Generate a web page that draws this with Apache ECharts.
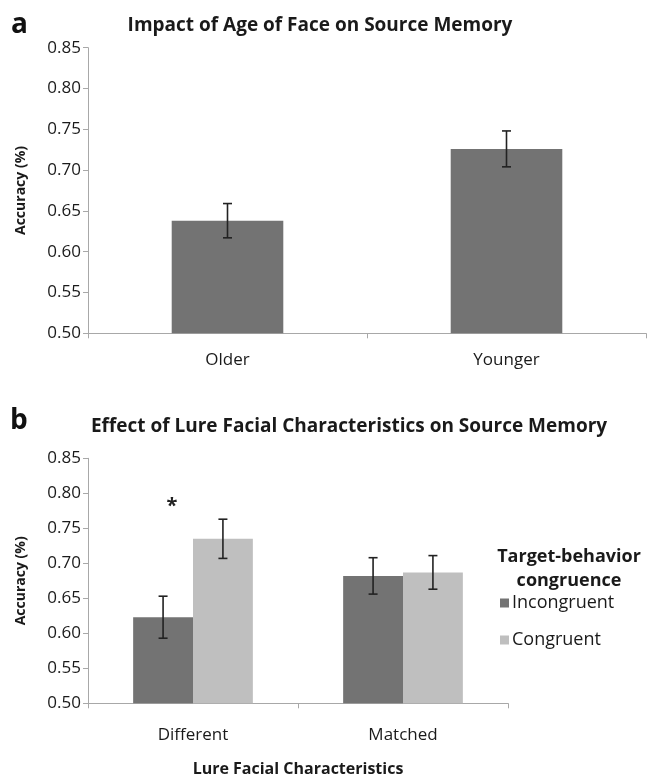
<!DOCTYPE html>
<html>
<head>
<meta charset="utf-8">
<script src="https://cdn.jsdelivr.net/npm/echarts@6/dist/echarts.min.js"></script>
<style>
html,body{margin:0;padding:0;background:#fff;}
#chart{width:647px;height:779px;}
</style>
</head>
<body>
<div id="chart"></div>
<script>
// ---- Data ----
const catsA = ['Older', 'Younger'];
const accA = [0.638, 0.726];
const errA = [0.021, 0.022];

const catsB = ['Different', 'Matched'];
const incongruent = [0.623, 0.682];
const congruent = [0.735, 0.687];
const errIncongruent = [0.030, 0.026];
const errCongruent = [0.028, 0.024];

const seriesNamesB = ['Incongruent', 'Congruent'];
const yMin = 0.50, yMax = 0.85, yStep = 0.05;
const starCategory = 'Different';
const starValue = 0.781;

// ---- Style ----
const FONT = 'Open Sans';
const TXT = '#1a1a1a';
const AXIS = '#a8a8a8';
const DARK = '#737373';
const LIGHT = '#bfbfbf';
const GAP_B = 0.43;

function errRender(offsetFrac) {
  return function (params, api) {
    const xi = api.value(0);
    const v = api.value(1);
    const e = api.value(2);
    const band = api.size([1, 0])[0];
    const off = offsetFrac * band;
    const top = api.coord([xi, v + e]);
    const bot = api.coord([xi, v - e]);
    const x = top[0] + off;
    const hw = 4.5;
    const st = { stroke: '#222', lineWidth: 1.6 };
    return {
      type: 'group',
      children: [
        { type: 'line', shape: { x1: x, y1: top[1], x2: x, y2: bot[1] }, style: st },
        { type: 'line', shape: { x1: x - hw, y1: top[1], x2: x + hw, y2: top[1] }, style: st },
        { type: 'line', shape: { x1: x - hw, y1: bot[1], x2: x + hw, y2: bot[1] }, style: st }
      ]
    };
  };
}

const barHalfB = (1 - GAP_B) / 4;

function yAxisCfg(gridIndex) {
  return {
    type: 'value', gridIndex: gridIndex,
    min: yMin, max: yMax, interval: yStep,
    name: 'Accuracy (%)', nameLocation: 'middle', nameGap: 60,
    nameTextStyle: { fontFamily: FONT, fontSize: 14, fontWeight: 'bold', color: TXT },
    axisLine: { show: true, lineStyle: { color: AXIS, width: 1 } },
    axisTick: { show: true, length: 5, lineStyle: { color: AXIS } },
    splitLine: { show: false },
    axisLabel: { fontFamily: FONT, fontSize: 17, color: TXT, margin: 7,
      formatter: v => v.toFixed(2) }
  };
}

const chart = echarts.init(document.getElementById('chart'), null, { renderer: 'canvas' });
chart.setOption({
  backgroundColor: '#fff',
  animation: false,
  title: [
    { text: 'a', left: 11, top: 11, padding: 0, textStyle: { fontFamily: FONT, fontSize: 28, fontWeight: 'bold', color: '#111' } },
    { text: 'Impact of Age of Face on Source Memory', left: 320, top: 16, padding: 0, textAlign: 'center',
      textStyle: { fontFamily: FONT, fontSize: 19, fontWeight: 'bold', color: TXT } },
    { text: 'b', left: 10, top: 407, padding: 0, textStyle: { fontFamily: FONT, fontSize: 28, fontWeight: 'bold', color: '#111' } },
    { text: 'Effect of Lure Facial Characteristics on Source Memory', left: 349, top: 417, padding: 0, textAlign: 'center',
      textStyle: { fontFamily: FONT, fontSize: 19, fontWeight: 'bold', color: TXT } },
    { text: 'Target-behavior\ncongruence', left: 569, top: 545, padding: 0, textAlign: 'center',
      textStyle: { fontFamily: FONT, fontSize: 18, fontWeight: 'bold', color: TXT, lineHeight: 24, align: 'center' } }
  ],
  legend: {
    data: seriesNamesB, orient: 'vertical', left: 500, top: 594, padding: 0,
    icon: 'rect', itemWidth: 9, itemHeight: 9, itemGap: 19,
    textStyle: { fontFamily: FONT, fontSize: 18, color: TXT, padding: [0, 0, 0, -2] }
  },
  grid: [
    { left: 88, top: 47.7, width: 558, height: 285.6, containLabel: false },
    { left: 88, top: 458.3, width: 420, height: 245, containLabel: false }
  ],
  xAxis: [
    { type: 'category', gridIndex: 0, data: catsA,
      axisLine: { lineStyle: { color: AXIS } },
      axisTick: { show: true, length: 5, lineStyle: { color: AXIS } },
      axisLabel: { fontFamily: FONT, fontSize: 17, color: TXT, margin: 18 } },
    { type: 'category', gridIndex: 1, data: catsB,
      name: 'Lure Facial Characteristics', nameLocation: 'middle', nameGap: 58,
      nameTextStyle: { fontFamily: FONT, fontSize: 16, fontWeight: 'bold', color: TXT },
      axisLine: { lineStyle: { color: AXIS } },
      axisTick: { show: true, length: 5, lineStyle: { color: AXIS } },
      axisLabel: { fontFamily: FONT, fontSize: 17, color: TXT, margin: 23 } }
  ],
  yAxis: [yAxisCfg(0), yAxisCfg(1)],
  series: [
    { type: 'bar', name: 'Age', xAxisIndex: 0, yAxisIndex: 0, data: accA,
      barCategoryGap: '60%', itemStyle: { color: DARK } },
    { type: 'custom', xAxisIndex: 0, yAxisIndex: 0, renderItem: errRender(0), z: 5,
      data: accA.map((v, i) => [i, v, errA[i]]) },

    { type: 'bar', name: seriesNamesB[0], xAxisIndex: 1, yAxisIndex: 1, data: incongruent,
      barGap: '0%', barCategoryGap: (GAP_B * 100) + '%', itemStyle: { color: DARK } },
    { type: 'bar', name: seriesNamesB[1], xAxisIndex: 1, yAxisIndex: 1, data: congruent,
      barGap: '0%', barCategoryGap: (GAP_B * 100) + '%', itemStyle: { color: LIGHT } },
    { type: 'custom', xAxisIndex: 1, yAxisIndex: 1, renderItem: errRender(-barHalfB), z: 5,
      data: incongruent.map((v, i) => [i, v, errIncongruent[i]]) },
    { type: 'custom', xAxisIndex: 1, yAxisIndex: 1, renderItem: errRender(barHalfB), z: 5,
      data: congruent.map((v, i) => [i, v, errCongruent[i]]) },
    { type: 'custom', xAxisIndex: 1, yAxisIndex: 1, z: 6,
      data: [[catsB.indexOf(starCategory), starValue]],
      renderItem: function (params, api) {
        const p = api.coord([api.value(0), api.value(1)]);
        const band = api.size([1, 0])[0];
        return { type: 'text', x: p[0] - 0.1 * band, y: p[1],
          style: { text: '*', fontFamily: FONT, fontSize: 20, fontWeight: 'bold', fill: '#222',
            align: 'center', verticalAlign: 'middle' } };
      } }
  ]
});
</script>
</body>
</html>
